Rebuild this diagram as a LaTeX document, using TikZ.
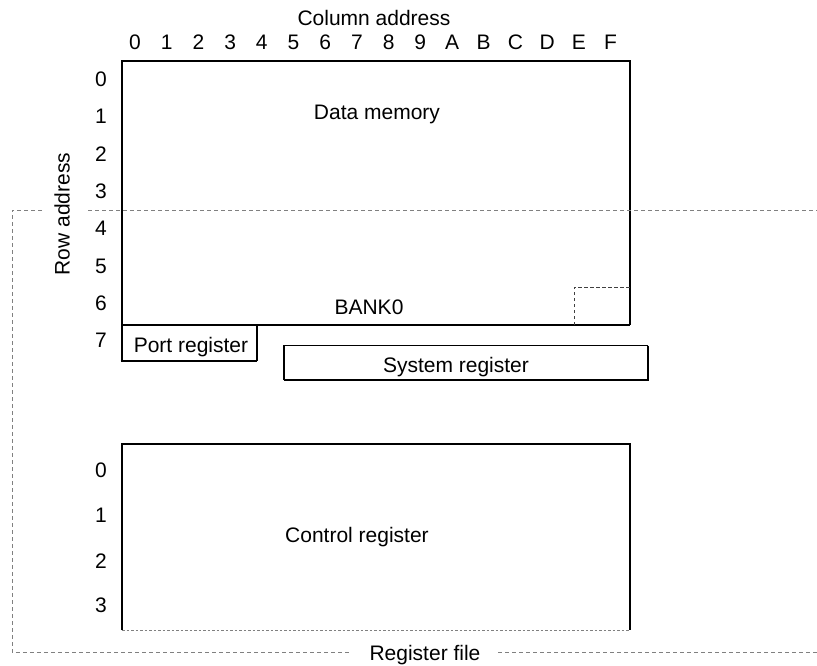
\documentclass[tikz,border=0pt]{standalone}
\usepackage{fontspec}
\setmainfont{Liberation Sans}
\usetikzlibrary{positioning}

\tikzset{
  lbl/.style={font=\fontsize{21}{25}\selectfont, inner sep=0pt, anchor=base},
  thickline/.style={line width=2.7pt},
  thinline/.style={line width=1.1pt},
  fence/.style={gray, line width=1pt, dash pattern=on 4pt off 3pt},
  tinydash/.style={black!75, line width=1pt, dash pattern=on 3.5pt off 2.5pt}
}

\begin{document}
\begin{tikzpicture}[x=1pt, y=-1pt, every node/.style={lbl}]
  \useasboundingbox (0,0) rectangle (817,665);
  % labels of the address axes
  \node (coladdr) at (374,25) {Column address};
  \node[rotate=90] (rowaddr) at (69.5,214) {Row address};
  \foreach \c [count=\i from 0] in {0,1,2,3,4,5,6,7,8,9,A,B,C,D,E,F}
    \node (c\i) at (135+31.7*\i,49) {\c};
  \foreach \r in {0,...,7}
    \node (r\r) at (101,86.5+37.3*\r) {\r};
  \node (k0) at (101,477.5) {0};
  \node (k1) at (101,522.5) {1};
  \node (k2) at (101,568.5) {2};
  \node (k3) at (101,612.5) {3};
  % data memory
  \coordinate (dmnw) at (122,61);
  \coordinate (dmne) at (630,61);
  \coordinate (dmsw) at (122,325);
  \coordinate (dmse) at (630,325);
  \draw[thickline] (122,361) -- (dmnw) -- (dmne) -- (dmse);
  \draw[thinline] (dmsw) -- (dmse);
  \node (datamem) at (377,119) {Data memory};
  \node (bank) at (369,314) {BANK0};
  \draw[tinydash] (574,325) -- (574,287) -- (630,287);
  % port register
  \node (portreg) at (191,352) {Port register};
  \draw[thinline] (257,325) -- (257,361);
  \draw[thickline] (120.7,361) -- (257,361);
  % system register
  \node (sysreg) at (456,372) {System register};
  \draw[thinline] (284,380) -- (284,345.5) -- (648,345.5);
  \draw[line width=2pt] (648,345.5) -- (648,380) -- (284,380);
  % control register
  \draw[thickline] (122,630) -- (122,444) -- (630,444) -- (630,630);
  \draw[gray, line width=1pt, dash pattern=on 2.5pt off 2pt] (122,630) -- (630,630);
  \node (ctrlreg) at (357,542) {Control register};
  % register file
  \node (regfile) at (425,660) {Register file};
  \coordinate (fl) at (350,652);
  \coordinate (fr) at (498,652);
  \draw[fence] (42,210) -- (12,210) -- (12,652) -- (fl);
  \draw[fence] (88,210) -- (817,210);
  \draw[fence] (fr) -- (817,652);
\end{tikzpicture}
\end{document}
